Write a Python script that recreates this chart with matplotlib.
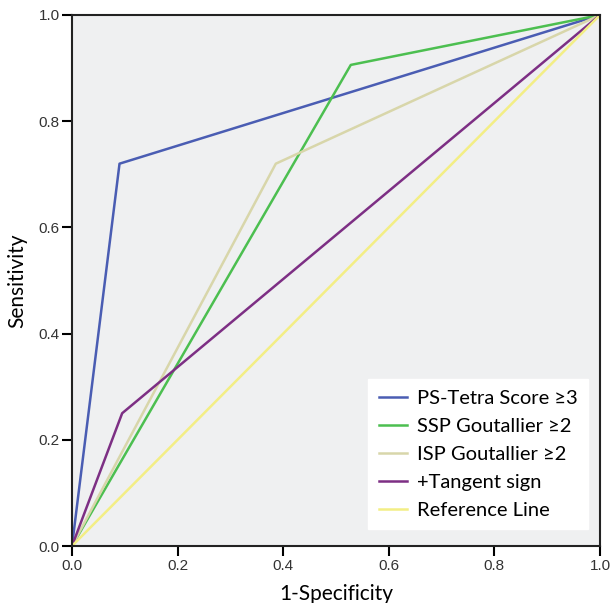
import matplotlib
matplotlib.use('Agg')
import matplotlib.pyplot as plt

# ROC curves (1-specificity, sensitivity)
ps_tetra_x = [0.0, 0.09, 1.0]
ps_tetra_y = [0.0, 0.72, 1.0]
ssp_x = [0.0, 0.528, 1.0]
ssp_y = [0.0, 0.906, 1.0]
isp_x = [0.0, 0.386, 1.0]
isp_y = [0.0, 0.72, 1.0]
tangent_x = [0.0, 0.095, 1.0]
tangent_y = [0.0, 0.25, 1.0]
ref_x = [0.0, 1.0]
ref_y = [0.0, 1.0]

labels = ['PS-Tetra Score \u22653', 'SSP Goutallier \u22652', 'ISP Goutallier \u22652',
          '+Tangent sign', 'Reference Line']
ticks = [0.0, 0.2, 0.4, 0.6, 0.8, 1.0]

fig = plt.figure(figsize=(6.14, 6.03), dpi=100)
ax = fig.add_axes([72 / 614, 57 / 603, 528 / 614, 531 / 603])
ax.set_facecolor('#eff0f1')

ax.plot(ps_tetra_x, ps_tetra_y, color='#4a5db3', lw=1.8, label=labels[0])
ax.plot(ssp_x, ssp_y, color='#4cbf50', lw=1.8, label=labels[1])
ax.plot(isp_x, isp_y, color='#d8d6aa', lw=1.8, label=labels[2])
ax.plot(tangent_x, tangent_y, color='#7d2f84', lw=1.8, label=labels[3])
ax.plot(ref_x, ref_y, color='#f3ee85', lw=1.8, label=labels[4])

ax.set_xlim(0, 1)
ax.set_ylim(0, 1)
ax.set_xticks(ticks)
ax.set_yticks(ticks)
ax.set_xticklabels([f'{t:.1f}' for t in ticks], family='Liberation Sans', fontsize=11, color='#333333')
ax.set_yticklabels([f'{t:.1f}' for t in ticks], family='Liberation Sans', fontsize=11, color='#333333')
ax.tick_params(direction='out', length=7, width=1.5, color='black', pad=2)
for s in ax.spines.values():
    s.set_linewidth(1.5)
    s.set_color('#222222')

ax.set_xlabel('1-Specificity', family='Lato', fontsize=15, labelpad=8)
ax.set_ylabel('Sensitivity', family='Lato', fontsize=15, labelpad=8)

leg = ax.legend(loc='lower right', bbox_to_anchor=(0.988, 0.02), prop={'family': 'Lato', 'size': 14.5},
                frameon=True, fancybox=False, handlelength=1.4, borderpad=0.5,
                labelspacing=0.55, handletextpad=0.5, borderaxespad=0.3)
leg.get_frame().set_facecolor('white')
leg.get_frame().set_edgecolor('white')
leg.get_frame().set_alpha(1)

fig.savefig('out.png', dpi=100)
